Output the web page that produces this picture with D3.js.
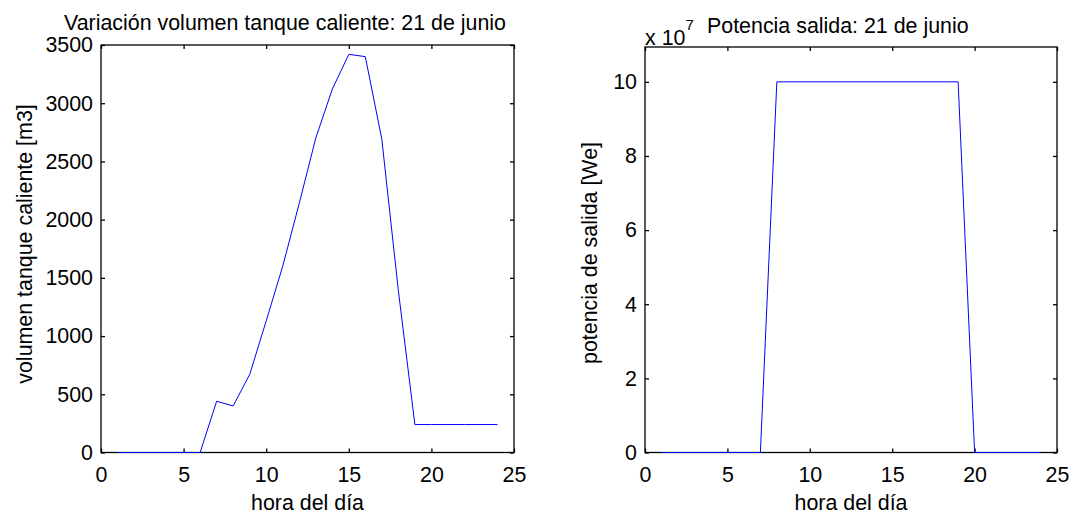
<!DOCTYPE html>
<html>
<head>
<meta charset="utf-8">
<script src="https://cdn.jsdelivr.net/npm/d3@7"></script>
<style>
  body { margin: 0; background: #fff; }
  text { font-family: "Liberation Sans", Arial, sans-serif; }
</style>
</head>
<body>
<script>
// hours of the day
var horas = [1,2,3,4,5,6,7,8,9,10,11,12,13,14,15,16,17,18,19,20,21,22,23,24];

// hot tank volume [m3]
var volumen = [0,0,0,0,0,0,440,400,670,1130,1600,2140,2700,3120,3420,3400,2690,1390,240,240,240,240,240,240];

// output power [We]
var potencia = [0,0,0,0,0,0,0,1e8,1e8,1e8,1e8,1e8,1e8,1e8,1e8,1e8,1e8,1e8,1e8,0,0,0,0,0];

var xTicks = [0,5,10,15,20,25];
var yTicksVol = [0,500,1000,1500,2000,2500,3000,3500];
var yTicksPot = [0,2e7,4e7,6e7,8e7,10e7];

var fontSize = 21.4;

var svg = d3.select('body').append('svg')
    .attr('width', 1072)
    .attr('height', 514);

// draws one matlab style panel
function panel(opt) {
    var x = d3.scaleLinear().domain([0,25]).range([opt.left, opt.right]);
    var y = d3.scaleLinear().domain(opt.yDomain).range([opt.bottom, opt.top]);

    var g = svg.append('g');

    // bottom axis with labels
    g.append('g')
        .attr('transform', 'translate(0,' + opt.bottom + ')')
        .call(d3.axisBottom(x).tickValues(xTicks).tickSizeInner(-4).tickSizeOuter(0).tickPadding(14));
    // top ticks
    g.append('g')
        .attr('transform', 'translate(0,' + opt.top + ')')
        .call(d3.axisTop(x).tickValues(xTicks).tickSizeInner(-4).tickSizeOuter(0).tickFormat(''));
    // left axis with labels
    g.append('g')
        .attr('transform', 'translate(' + opt.left + ',0)')
        .call(d3.axisLeft(y).tickValues(opt.yTicks).tickSizeInner(-4).tickSizeOuter(0).tickPadding(8).tickFormat(opt.fmt));
    // right ticks
    g.append('g')
        .attr('transform', 'translate(' + opt.right + ',0)')
        .call(d3.axisRight(y).tickValues(opt.yTicks).tickSizeInner(-4).tickSizeOuter(0).tickFormat(''));

    g.selectAll('.domain').remove();
    g.selectAll('.tick line').attr('stroke', '#000').attr('stroke-width', 1.3);
    g.selectAll('.tick text')
        .attr('font-size', fontSize)
        .attr('font-family', '"Liberation Sans", Arial, sans-serif')
        .attr('fill', '#000');

    // box
    g.append('rect')
        .attr('x', opt.left)
        .attr('y', opt.top)
        .attr('width', opt.right - opt.left)
        .attr('height', opt.bottom - opt.top)
        .attr('fill', 'none')
        .attr('stroke', '#000')
        .attr('stroke-width', 1.3);

    // data line
    var line = d3.line()
        .x(function(d, i) { return x(horas[i]); })
        .y(function(d) { return y(d); });
    g.append('path')
        .datum(opt.values)
        .attr('d', line)
        .attr('fill', 'none')
        .attr('stroke', '#0000ff')
        .attr('stroke-width', 1);

    // x label
    g.append('text')
        .attr('x', (opt.left + opt.right) / 2)
        .attr('y', 510)
        .attr('text-anchor', 'middle')
        .attr('font-size', fontSize)
        .text('hora del día');

    // y label
    g.append('text')
        .attr('transform', 'translate(' + opt.yLabelX + ',' + opt.yLabelY + ') rotate(-90)')
        .attr('text-anchor', 'middle')
        .attr('font-size', fontSize)
        .text(opt.yLabel);

    return g;
}

panel({
    left: 101, right: 514, top: 45, bottom: 452.5,
    yDomain: [0,3500], yTicks: yTicksVol,
    fmt: d3.format('d'),
    values: volumen,
    yLabel: 'volumen tanque caliente [m3]', yLabelX: 32, yLabelY: 244
});

svg.append('text')
    .attr('x', 64)
    .attr('y', 30)
    .attr('font-size', fontSize)
    .text('Variación volumen tanque caliente: 21 de junio');

panel({
    left: 645, right: 1057, top: 47, bottom: 452.5,
    yDomain: [0,1.094e8], yTicks: yTicksPot,
    fmt: function(v) { return v / 1e7; },
    values: potencia,
    yLabel: 'potencia de salida [We]', yLabelX: 597, yLabelY: 253
});

// exponent label
var expo = svg.append('text')
    .attr('x', 645)
    .attr('y', 45)
    .attr('font-size', fontSize);
expo.append('tspan').text('x 10');
expo.append('tspan').attr('dy', -15).attr('font-size', 15).text('7');

svg.append('text')
    .attr('x', 707)
    .attr('y', 33)
    .attr('font-size', fontSize)
    .text('Potencia salida: 21 de junio');
</script>
</body>
</html>
